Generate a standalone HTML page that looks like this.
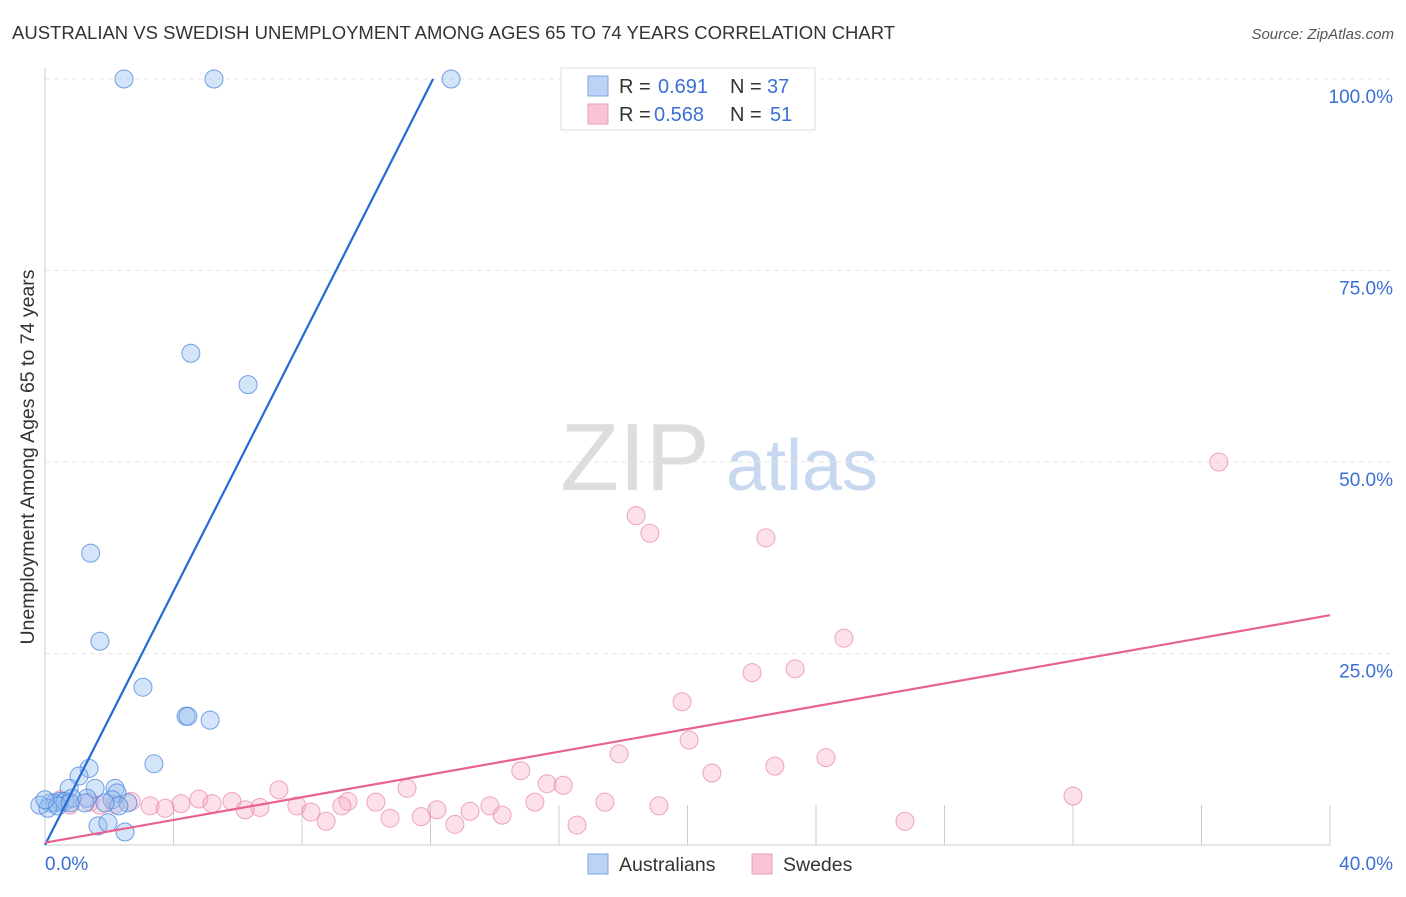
<!DOCTYPE html>
<html><head><meta charset="utf-8">
<style>
body{margin:0;background:#fff;font-family:"Liberation Sans",sans-serif;}
svg text{font-family:"Liberation Sans",sans-serif;}
</style></head>
<body>
<svg id="chart" width="1406" height="892" viewBox="0 0 1406 892" xmlns="http://www.w3.org/2000/svg">
<text x="12" y="39" font-size="18.5" fill="#333">AUSTRALIAN VS SWEDISH UNEMPLOYMENT AMONG AGES 65 TO 74 YEARS CORRELATION CHART</text>
<text x="1394" y="39" font-size="15" fill="#555" text-anchor="end" font-style="italic">Source: ZipAtlas.com</text>
<text transform="translate(34,457) rotate(-90)" font-size="19.5" fill="#333" text-anchor="middle">Unemployment Among Ages 65 to 74 years</text>
<g>
<text x="635" y="490" font-size="96" fill="#ddd" font-family="Liberation Serif,serif" text-anchor="middle">ZIP</text>
<text x="802" y="490" font-size="72" fill="#c8d8f0" text-anchor="middle">atlas</text>
</g>
<g id="grid"></g>
<g id="pts"></g>
<g id="lines"></g>
<g>
<rect x="561" y="68" width="254" height="62" fill="#fff" stroke="#ddd"/>
<rect x="588" y="76" width="20" height="20" fill="#bcd3f5" stroke="#7ea6e6"/>
<rect x="588" y="104" width="20" height="20" fill="#f9c5d5" stroke="#ee9bb5"/>
<text x="619" y="93" font-size="20" fill="#333">R =</text><text x="658" y="93" font-size="20" fill="#3b6fd4">0.691</text>
<text x="730" y="93" font-size="20" fill="#333">N =</text><text x="767" y="93" font-size="20" fill="#3b6fd4">37</text>
<text x="619" y="121" font-size="20" fill="#333">R =</text><text x="654" y="121" font-size="20" fill="#3b6fd4">0.568</text>
<text x="730" y="121" font-size="20" fill="#333">N =</text><text x="770" y="121" font-size="20" fill="#3b6fd4">51</text>
</g>
<g>
<rect x="588" y="854" width="20" height="20" fill="#bcd3f5" stroke="#7ea6e6"/>
<text x="619" y="871" font-size="19.5" fill="#333">Australians</text>
<rect x="752" y="854" width="20" height="20" fill="#f9c5d5" stroke="#ee9bb5"/>
<text x="783" y="871" font-size="19.5" fill="#333">Swedes</text>
</g>
</svg>
<script>
const xTickLabels=["0.0%","40.0%"];
const yTicks=[25,50,75,100];
const yTickLabels=["25.0%","50.0%","75.0%","100.0%"];
const ausX=[2.46,5.26,12.64,4.54,6.32,1.42,1.71,3.05,4.39,4.45,5.14,3.39,1.37,1.06,0.75,1.56,2.18,2.24,1.31,0.47,0.16,0.31,0.62,0.84,2.09,2.58,2.30,1.65,1.96,2.49,-0.16,0.09,0.40,1.24,0.78,1.87,0];
const ausY=[100,100,100,64.2,60.1,38.1,26.6,20.6,16.8,16.8,16.3,10.6,10.0,9.0,7.4,7.4,7.4,6.8,6.1,5.7,5.5,5.5,5.7,6.1,5.9,5.5,5.1,2.5,2.9,1.7,5.2,4.8,5.1,5.5,5.5,5.5,5.9];
const sweX=[36.54,18.40,18.83,22.44,24.87,22.01,23.35,19.83,20.05,17.87,24.31,14.81,22.72,20.76,15.63,16.13,11.27,7.28,32.00,4.79,5.82,17.43,15.25,19.11,2.68,4.23,5.20,9.43,10.30,2.18,1.40,3.27,3.74,7.84,9.24,13.85,6.69,6.23,8.28,12.20,13.23,10.74,11.71,14.23,8.75,12.76,16.56,26.77,1.71,0.47,0.78];
const sweY=[50.0,43.0,40.7,40.1,27.0,22.5,23.0,18.7,13.7,11.9,11.4,9.7,10.3,9.4,8.0,7.8,7.4,7.2,6.4,6.0,5.7,5.6,5.6,5.1,5.7,5.4,5.4,5.7,5.6,5.3,5.6,5.1,4.8,5.1,5.1,5.1,4.9,4.6,4.3,4.6,4.4,3.5,3.7,3.9,3.1,2.7,2.6,3.1,5.2,5.9,5.2];
const ausLine=[[0,0],[12.08,100]];
const sweLine=[[0,0.3],[40,30]];
const NS="http://www.w3.org/2000/svg";
const X0=45,X1=1330,Y0=845,Y1=79;
const sx=v=>X0+(v/40)*(X1-X0);
const sy=v=>Y0-(v/100)*(Y0-Y1);
function mk(t,a,p){const e=document.createElementNS(NS,t);for(const k in a)e.setAttribute(k,a[k]);p.appendChild(e);return e;}
const grid=document.getElementById('grid');
let ax=mk('line',{x1:X0,y1:68,x2:X0,y2:Y0,stroke:'#ccc'},grid);


let bx=mk('line',{x1:X0,y1:Y0,x2:X1,y2:Y0,stroke:'#ccc'},grid);


for(let i=1;i<=10;i++){const t=mk('line',{x1:sx(i*4),y1:805,x2:sx(i*4),y2:Y0,stroke:'#ccc'},grid);

}
yTicks.forEach((v,i)=>{const g=mk('line',{x1:X0,y1:sy(v),x2:1395,y2:sy(v),stroke:'#e4e4e4','stroke-dasharray':'5,4'},grid);


const t=mk('text',{x:1393,y:sy(v)+24,'font-size':19,fill:'#3b6fd4','text-anchor':'end'},grid);t.textContent=yTickLabels[i];

});
[[0,'start',X0],[1,'end',1393]].forEach(([i,a,x])=>{const t=mk('text',{x:x,y:870,'font-size':19,fill:'#3b6fd4','text-anchor':a},grid);t.textContent=xTickLabels[i];

});
const pts=document.getElementById('pts');
sweX.forEach((v,i)=>{const c=mk('circle',{cx:sx(v),cy:sy(sweY[i]),r:9,fill:'rgba(246,170,195,0.35)',stroke:'rgba(232,130,165,0.7)'},pts);

});
ausX.forEach((v,i)=>{const c=mk('circle',{cx:sx(v),cy:sy(ausY[i]),r:9,fill:'rgba(150,190,240,0.4)',stroke:'rgba(70,130,220,0.75)'},pts);

});
const lines=document.getElementById('lines');
let l1=mk('line',{x1:sx(ausLine[0][0]),y1:sy(ausLine[0][1]),x2:sx(ausLine[1][0]),y2:sy(ausLine[1][1]),stroke:'#2469d6','stroke-width':2.2},lines);


let l2=mk('line',{x1:sx(sweLine[0][0]),y1:sy(sweLine[0][1]),x2:sx(sweLine[1][0]),y2:sy(sweLine[1][1]),stroke:'#e8628f','stroke-width':2.2},lines);


</script>
</body></html>
